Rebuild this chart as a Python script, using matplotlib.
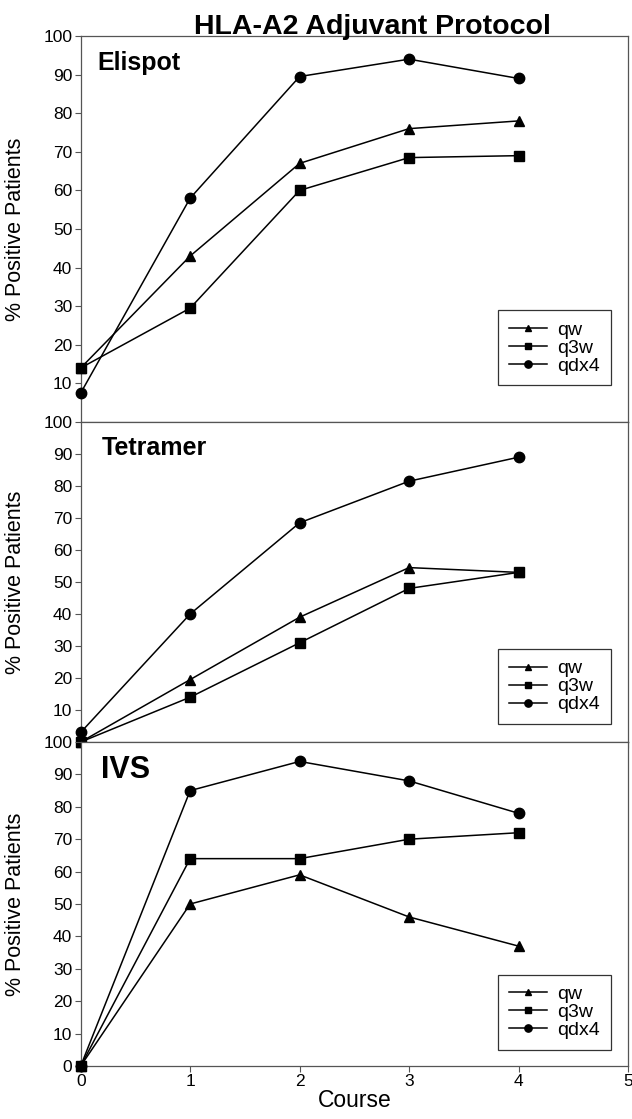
import matplotlib
matplotlib.use("Agg")
import matplotlib.pyplot as plt

plt.rcParams['font.family'] = ['Liberation Sans', 'DejaVu Sans']

course = [0, 1, 2, 3, 4]
series_names = ["qw", "q3w", "qdx4"]

# % positive patients per panel, per schedule
elispot_qw = [14, 43, 67, 76, 78]
elispot_q3w = [14, 29.5, 60, 68.5, 69]
elispot_qdx4 = [7.5, 58, 89.5, 94, 89]

tetramer_qw = [0, 19.5, 39, 54.5, 53]
tetramer_q3w = [0, 14, 31, 48, 53]
tetramer_qdx4 = [3, 40, 68.5, 81.5, 89]

ivs_qw = [0, 50, 59, 46, 37]
ivs_q3w = [0, 64, 64, 70, 72]
ivs_qdx4 = [0, 85, 94, 88, 78]

panels = [
    ("Elispot", [elispot_qw, elispot_q3w, elispot_qdx4]),
    ("Tetramer", [tetramer_qw, tetramer_q3w, tetramer_qdx4]),
    ("IVS", [ivs_qw, ivs_q3w, ivs_qdx4]),
]

markers = ["^", "s", "o"]
msizes = [7, 6.5, 7.5]

W, H = 632, 1119
fig = plt.figure(figsize=(W / 100, H / 100), dpi=100)

left = 80.7 / W
width = (628 - 80.7) / W
# (top px, bottom px) for each panel
boxes = [(36, 422), (422, 742), (742, 1066)]
legend_bottoms = [0.095, 0.056, 0.05]
label_pos = [(0.03, 0.912, 18), (0.038, 0.897, 18), (0.038, 0.889, 22)]

spine_col = "#555555"

for i, (name, data) in enumerate(panels):
    top_px, bot_px = boxes[i]
    ax = fig.add_axes([left, (H - bot_px) / H, width, (bot_px - top_px) / H])
    for vals, m, ms, lab in zip(data, markers, msizes, series_names):
        ax.plot(course, vals, color="black", lw=1.1, marker=m, ms=ms,
                label=lab, clip_on=False, zorder=3)
    ax.set_xlim(0, 5)
    ax.set_ylim(0, 100)
    if i == 2:
        ax.set_yticks(range(0, 101, 10))
        ax.set_xticks(range(0, 6))
        ax.set_xlabel("Course", fontsize=16.5, labelpad=0)
    else:
        ax.set_yticks(range(10, 101, 10))
        ax.set_xticks(range(0, 6))
        ax.set_xticklabels([])
    ax.tick_params(axis="both", direction="out", length=4, width=0.8,
                   color=spine_col, labelsize=12.5, pad=2)
    if i == 0:
        ax.tick_params(axis="x", length=0)
    for sp in ax.spines.values():
        sp.set_color(spine_col)
        sp.set_linewidth(0.9)
    ax.set_ylabel("% Positive Patients", fontsize=15.5)
    ax.yaxis.set_label_coords(-0.1, 0.5)

    lx, ly, fs = label_pos[i]
    ax.text(lx, ly, name, transform=ax.transAxes, fontsize=fs,
            fontweight="bold", va="baseline", ha="left")

    leg = ax.legend(loc="lower right", bbox_to_anchor=(0.969, legend_bottoms[i]),
                    borderaxespad=0, frameon=True, fancybox=False,
                    fontsize=14, labelspacing=0.02, handlelength=1.95,
                    handletextpad=0.55, borderpad=0.55, markerscale=0.7)
    leg.get_frame().set_edgecolor("black")
    leg.get_frame().set_linewidth(0.9)

fig.text(0.589, 1 - 34 / H, "HLA-A2 Adjuvant Protocol", ha="center",
         va="baseline", fontsize=20.5, fontweight="bold")

fig.savefig("out.png", dpi=100)
